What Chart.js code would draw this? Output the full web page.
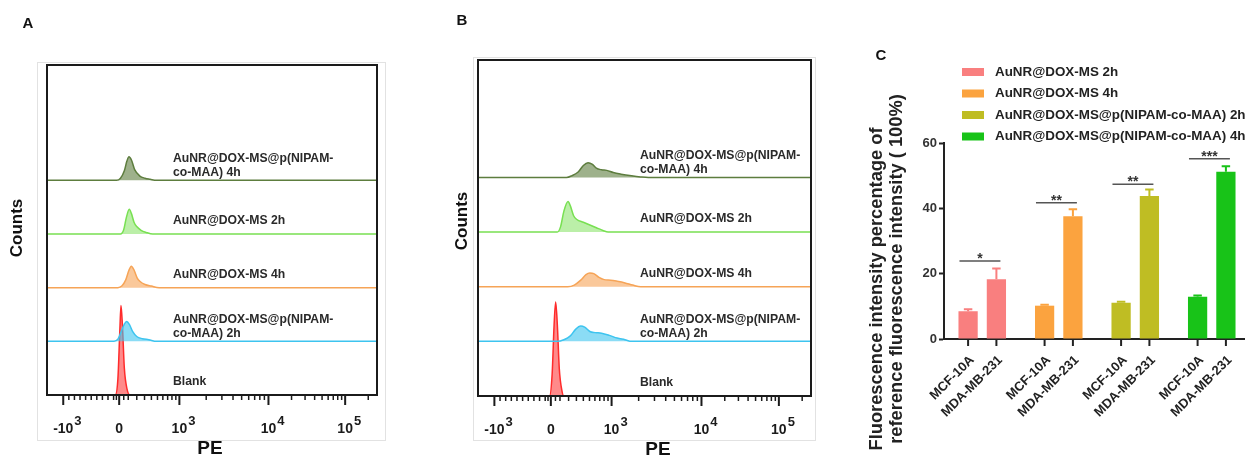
<!DOCTYPE html>
<html>
<head>
<meta charset="utf-8">
<script src="https://cdn.jsdelivr.net/npm/chart.js@4.4.0/dist/chart.umd.min.js"></script>
<style>
  html, body { margin: 0; padding: 0; background: #fff; overflow: hidden; }
  body { width: 1245px; height: 459px; position: relative; }
  canvas { position: absolute; top: 0; }
  #chartA { left: 0; }
  #chartB { left: 420px; }
  #chartC { left: 860px; }
</style>
</head>
<body>
<canvas id="chartA" width="400" height="459"></canvas>
<canvas id="chartB" width="410" height="459"></canvas>
<canvas id="chartC" width="392" height="459"></canvas>
<script>
// ---- flow histograms (x = display channel 0..256, y = counts, % of track height) ----
const trackLabels = [
  ['AuNR@DOX-MS@p(NIPAM-', 'co-MAA) 4h'],
  ['AuNR@DOX-MS 2h'],
  ['AuNR@DOX-MS 4h'],
  ['AuNR@DOX-MS@p(NIPAM-', 'co-MAA) 2h'],
  ['Blank']
];

// panel A
const a_nipam4h = [[0,0],[54,0],[57,4],[60,18],[62,36],[63.6,44],[65.5,38],[68,20],[72,8],[76,4],[80,2],[85,0],[256,0]];
const a_dox2h   = [[0,0],[57,0],[59.5,8],[61.5,30],[63.8,46],[65.5,38],[67.5,22],[69.6,14],[73,7],[77,3],[82,0],[256,0]];
const a_dox4h   = [[0,0],[55,0],[58,3],[61,14],[63.5,32],[65.4,40],[67.5,33],[70,18],[72,12],[76,6],[81,3],[87,0],[256,0]];
const a_nipam2h = [[0,0],[52,0],[55,4],[57.5,18],[60,32],[61.8,37],[64,31],[66.5,18],[69.6,9],[74,5],[79,3],[85,0],[256,0]];
const a_blank   = [[0,0],[53,0],[55,30],[56.5,120],[57.4,167],[58.5,130],[60,50],[62,12],[64.5,0],[256,0]];

// panel B
const b_nipam4h = [[0,0],[68,0],[72,3],[77,10],[81,22],[84.6,27],[88,24],[91,17],[95,14],[99,13],[104,9],[110,6],[118,3],[125,1],[131,0],[256,0]];
const b_dox2h   = [[0,0],[61,0],[63.5,10],[66,38],[69.2,56],[71,48],[73.5,30],[76,23],[81,18],[86,13],[91,8],[96,3],[100,0],[256,0]];
const b_dox4h   = [[0,0],[69,0],[74,3],[79,12],[83,22],[86,25],[89,24],[93,17],[97,13],[102,12],[107,10],[113,7],[119,3],[125,0],[256,0]];
const b_nipam2h = [[0,0],[61,0],[66,3],[71,10],[75,22],[79,28],[82,26],[86,18],[90,16],[95,15],[101,11],[107,6],[113,3],[118,0],[256,0]];
const b_blank   = [[0,0],[55,0],[57,40],[58.5,130],[59.7,172],[61,130],[62.5,50],[64.5,10],[66,0],[256,0]];

// biexponential PE axis
const majorTickValues = [-1000, 0, 1000, 10000, 100000];
const majorTickChannels = [12.6, 56, 102.7, 171.8, 231.3];
const majorTickBase = ['-10', '0', '10', '10', '10'];
const majorTickExp = ['3', '', '3', '4', '5'];
const minorTickValues = [-900, -800, -700, -600, -500, -400, -300, -200, -100, -50, 50,
  100, 200, 300, 400, 500, 600, 700, 800, 900,
  2000, 3000, 4000, 5000, 6000, 7000, 8000, 9000,
  20000, 30000, 40000, 50000, 60000, 70000, 80000, 90000, 200000];

// ---- bar chart C ----
const formulations = ['AuNR@DOX-MS 2h', 'AuNR@DOX-MS 4h', 'AuNR@DOX-MS@p(NIPAM-co-MAA) 2h', 'AuNR@DOX-MS@p(NIPAM-co-MAA) 4h'];
const cellLines = ['MCF-10A', 'MDA-MB-231'];
const mcf10a = [8.5, 10.2, 11.1, 12.9];
const mcf10aErr = [0.6, 0.3, 0.3, 0.4];
const mdamb231 = [18.3, 37.6, 43.8, 51.2];
const mdamb231Err = [3.3, 2.1, 2.0, 1.7];
const sigStars = ['*', '**', '**', '***'];
const sigLevel = [23.9, 41.7, 47.4, 55.2];
const yTicksC = [0, 20, 40, 60];

// styles
const FONT = '"Liberation Sans", Arial, Helvetica, sans-serif';
const lineColors = ['#5d7d3e', '#78e052', '#f6a457', '#3ec4ef', '#ff2b2b'];
const fillColors = ['rgba(93,125,62,0.6)', 'rgba(120,224,82,0.5)', 'rgba(246,164,87,0.6)', 'rgba(62,196,239,0.6)', 'rgba(255,60,60,0.6)'];
const barColors = ['#f97f7f', '#fba33f', '#bfbd23', '#18c318'];
const TOP_WEIGHT = 2.15;

Chart.defaults.font.family = FONT;
Chart.defaults.animation = false;

function toChannel(v) {
  const c = majorTickChannels;
  if (v <= 0) return c[1] + (c[1] - c[0]) * v / 1000;
  if (v <= 1000) return c[1] + (c[2] - c[1]) * Math.asinh(v / 400) / Math.asinh(2.5);
  const d = Math.log10(v) - 3;
  if (d <= 1) return c[2] + (c[3] - c[2]) * d;
  return c[3] + (c[4] - c[3]) * (d - 1);
}

const flowDecor = {
  id: 'flowDecor',
  beforeDraw(chart, args, o) {
    const { ctx, chartArea: a } = chart;
    ctx.save();
    ctx.strokeStyle = '#e2e2e2';
    ctx.lineWidth = 1;
    const f = o.frame;
    ctx.strokeRect(a.left + f[0] + 0.5, a.top + f[1] + 0.5, (a.right + f[2]) - (a.left + f[0]), (a.bottom + f[3]) - (a.top + f[1]));
    ctx.restore();
  },
  afterDraw(chart, args, o) {
    const { ctx, chartArea: a, scales } = chart;
    const xs = scales.x;
    ctx.save();
    ctx.strokeStyle = '#1b1b1b';
    ctx.lineWidth = 2;
    ctx.strokeRect(a.left, a.top, a.right - a.left, a.bottom - a.top);

    ctx.lineWidth = 1.5;
    minorTickValues.forEach(v => {
      const px = xs.getPixelForValue(toChannel(v));
      ctx.beginPath(); ctx.moveTo(px, a.bottom); ctx.lineTo(px, a.bottom + 5); ctx.stroke();
    });
    ctx.lineWidth = 2;
    ctx.fillStyle = '#1b1b1b';
    majorTickValues.forEach((v, i) => {
      const px = xs.getPixelForValue(toChannel(v));
      ctx.beginPath(); ctx.moveTo(px, a.bottom); ctx.lineTo(px, a.bottom + 10); ctx.stroke();
      ctx.font = 'bold 14px ' + FONT;
      ctx.textAlign = 'center';
      ctx.textBaseline = 'alphabetic';
      ctx.fillText(majorTickBase[i], px, a.bottom + 38);
      if (majorTickExp[i]) {
        const w = ctx.measureText(majorTickBase[i]).width;
        ctx.textAlign = 'left';
        ctx.font = 'bold 13px ' + FONT;
        ctx.fillText(majorTickExp[i], px + w / 2 + 1, a.bottom + 30);
      }
    });

    // track labels
    ctx.fillStyle = '#2a2a2a';
    ctx.font = 'bold 12.2px ' + FONT;
    ctx.textAlign = 'left';
    ctx.textBaseline = 'middle';
    const lx = xs.getPixelForValue(o.labelChannel);
    trackLabels.forEach((lines, i) => {
      const base = scales['t' + i].getPixelForValue(0);
      if (lines.length === 2) {
        ctx.fillText(lines[0], lx, base - 22);
        ctx.fillText(lines[1], lx, base - 8);
      } else {
        ctx.fillText(lines[0], lx, base - 13);
      }
    });

    // axis titles & panel letter
    ctx.fillStyle = '#111';
    ctx.font = 'bold 19px ' + FONT;
    ctx.textAlign = 'center';
    ctx.fillText('PE', o.peX, a.bottom + 54);
    ctx.font = 'bold 17px ' + FONT;
    ctx.save();
    ctx.translate(o.countsX, o.countsY);
    ctx.rotate(-Math.PI / 2);
    ctx.fillText('Counts', 0, 0);
    ctx.restore();
    ctx.font = 'bold 15px ' + FONT;
    ctx.fillText(o.letter, o.letterX, o.letterY);
    ctx.restore();
  }
};

function histChart(id, series, pad, decor) {
  const scales = { x: { type: 'linear', min: 0, max: 256, display: false } };
  const datasets = [];
  // stacked left axes are laid out last-defined on top, so add the bottom track first
  for (let i = series.length - 1; i >= 0; i--) {
    const w = i === 0 ? TOP_WEIGHT : 1;
    scales['t' + i] = { type: 'linear', position: 'left', display: false, min: 0, max: 100 * w, stack: 'tracks', stackWeight: w };
  }
  series.forEach((s, i) => {
    datasets.push({
      label: trackLabels[i].join(''),
      data: s,
      yAxisID: 't' + i,
      borderColor: lineColors[i],
      backgroundColor: fillColors[i],
      borderWidth: 1.5,
      pointRadius: 0,
      fill: 'origin',
      clip: false, // the blank peak rises past its own track
      cubicInterpolationMode: 'monotone'
    });
  });
  return new Chart(document.getElementById(id), {
    type: 'line',
    data: { datasets },
    plugins: [flowDecor],
    options: {
      responsive: false,
      layout: { padding: pad },
      plugins: { legend: { display: false }, tooltip: { enabled: false }, flowDecor: decor },
      scales
    }
  });
}

histChart('chartA', [a_nipam4h, a_dox2h, a_dox4h, a_nipam2h, a_blank],
  { left: 47, right: 23, top: 65, bottom: 64 },
  { frame: [-10, -3, 8, 45], labelChannel: 97.8, peX: 210, countsX: 17, countsY: 228, letter: 'A', letterX: 28, letterY: 24 });

histChart('chartB', [b_nipam4h, b_dox2h, b_dox4h, b_nipam2h, b_blank],
  { left: 58, right: 19, top: 60, bottom: 63 },
  { frame: [-5, -3, 4, 44], labelChannel: 124.5, peX: 238, countsX: 42.5, countsY: 221, letter: 'B', letterX: 42, letterY: 21 });

// ---- panel C ----
const cellDecor = {
  id: 'cellDecor',
  afterDatasetsDraw(chart) {
    const { ctx, chartArea: a, scales } = chart;
    const ys = scales.y;
    const errs = [mcf10aErr, mdamb231Err];
    const vals = [mcf10a, mdamb231];
    ctx.save();
    // error bars (upper only)
    [0, 1].forEach(d => {
      chart.getDatasetMeta(d).data.forEach((bar, i) => {
        const yTop = ys.getPixelForValue(vals[d][i] + errs[d][i]);
        ctx.strokeStyle = barColors[i];
        ctx.lineWidth = 2;
        ctx.beginPath();
        ctx.moveTo(bar.x, bar.y); ctx.lineTo(bar.x, yTop);
        ctx.moveTo(bar.x - bar.width * 0.22, yTop); ctx.lineTo(bar.x + bar.width * 0.22, yTop);
        ctx.stroke();
      });
    });
    const m0 = chart.getDatasetMeta(0).data;
    const m1 = chart.getDatasetMeta(1).data;
    // significance
    sigLevel.forEach((lv, i) => {
      const x1 = m0[i].x - m0[i].width / 2 + 1;
      const x2 = m1[i].x + 4;
      const y = ys.getPixelForValue(lv);
      ctx.strokeStyle = '#555';
      ctx.lineWidth = 1.5;
      ctx.beginPath(); ctx.moveTo(x1, y); ctx.lineTo(x2, y); ctx.stroke();
      ctx.fillStyle = '#333';
      ctx.font = 'bold 14px ' + FONT;
      ctx.textAlign = 'center';
      ctx.textBaseline = 'alphabetic';
      ctx.fillText(sigStars[i], (x1 + x2) / 2, y + 2);
    });
    // x ticks and rotated cell line labels
    ctx.strokeStyle = '#222';
    ctx.lineWidth = 2;
    ctx.fillStyle = '#222';
    ctx.font = 'bold 13px ' + FONT;
    ctx.textAlign = 'right';
    ctx.textBaseline = 'middle';
    [m0, m1].forEach((bars, d) => {
      bars.forEach(bar => {
        ctx.beginPath(); ctx.moveTo(bar.x, a.bottom); ctx.lineTo(bar.x, a.bottom + 7); ctx.stroke();
        ctx.save();
        ctx.translate(bar.x + 4, a.bottom + 19);
        ctx.rotate(-Math.PI / 4);
        ctx.fillText(cellLines[d], 0, 0);
        ctx.restore();
      });
    });
    ctx.restore();
  },
  afterDraw(chart) {
    const { ctx } = chart;
    ctx.save();
    // legend
    ctx.textAlign = 'left';
    ctx.textBaseline = 'middle';
    ctx.font = 'bold 13.4px ' + FONT;
    formulations.forEach((f, i) => {
      const y = 72 + i * 21.5;
      ctx.fillStyle = barColors[i];
      ctx.fillRect(102, y - 4, 22, 8);
      ctx.fillStyle = '#222';
      ctx.fillText(f, 135, y);
    });
    // y title
    ctx.fillStyle = '#222';
    ctx.font = 'bold 18.3px ' + FONT;
    ctx.textAlign = 'center';
    [['Fluorescence intensity percentage of', 17, 289], ['reference fluorescence intensity ( 100%)', 37, 269]].forEach(t => {
      ctx.save();
      ctx.translate(t[1], t[2]);
      ctx.rotate(-Math.PI / 2);
      ctx.fillText(t[0], 0, 0);
      ctx.restore();
    });
    ctx.font = 'bold 15px ' + FONT;
    ctx.fillStyle = '#111';
    ctx.fillText('C', 21, 56);
    ctx.restore();
  }
};

new Chart(document.getElementById('chartC'), {
  type: 'bar',
  data: {
    labels: formulations,
    datasets: [
      { label: cellLines[0], data: mcf10a, backgroundColor: barColors, categoryPercentage: 0.74, barPercentage: 0.68 },
      { label: cellLines[1], data: mdamb231, backgroundColor: barColors, categoryPercentage: 0.74, barPercentage: 0.68 }
    ]
  },
  plugins: [cellDecor],
  options: {
    responsive: false,
    layout: { padding: { top: 143, right: 2, left: 0, bottom: 0 } },
    plugins: { legend: { display: false }, tooltip: { enabled: false } },
    scales: {
      x: {
        grid: { display: false },
        ticks: { display: false },
        border: { display: true, color: '#222', width: 2 },
        afterFit: s => { s.height = 120; }
      },
      y: {
        min: 0, max: 60,
        afterBuildTicks: s => { s.ticks = yTicksC.map(v => ({ value: v })); },
        ticks: { color: '#333', padding: 2, font: { weight: 'bold', size: 13 } },
        grid: { drawOnChartArea: false, tickLength: 5, tickColor: '#222', tickWidth: 2 },
        border: { color: '#222', width: 2 },
        afterFit: s => { s.width = 84; }
      }
    }
  }
});
</script>
</body>
</html>
